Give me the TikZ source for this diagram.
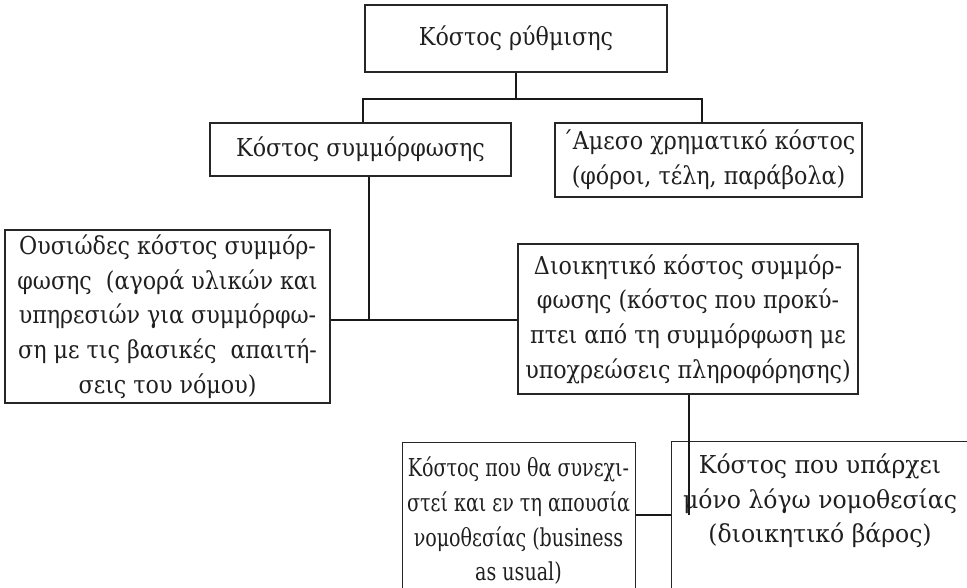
\documentclass[tikz,border=0pt]{standalone}
\usepackage{fontspec}
\setmainfont{DejaVu Serif Condensed}
\newfontfamily\narrowfont[FakeStretch=0.86]{DejaVu Serif Condensed}
\newfontfamily\widefont[FakeStretch=1.06]{DejaVu Serif Condensed}
\begin{document}
\begin{tikzpicture}[x=0.75pt,y=-0.75pt,
  box/.style={draw=black!85, line width=0.9pt, rectangle, inner sep=0pt, align=center,
    font=\fontsize{18.5}{26}\selectfont, text=black!88},
  txt/.style={inner sep=0pt, align=center, font=\fontsize{18.5}{26}\selectfont, text=black!88},
  conn/.style={draw=black!90, line width=1.8pt}]
\useasboundingbox (0,0) rectangle (967,588);
\clip (0,0) rectangle (967,588);
\node[box, minimum width=302*0.75pt, minimum height=67*0.75pt] (top) at (516,38.5) {Κόστος ρύθμισης};
\node[box, minimum width=301*0.75pt, minimum height=53*0.75pt] (comp) at (360.5,149.5) {Κόστος συμμόρφωσης};
\node[box, minimum width=307*0.75pt, minimum height=74*0.75pt] (direct) at (708.5,160) {΄Αμεσο χρηματικό κόστος\\(φόροι, τέλη, παράβολα)};
\node[box, minimum width=325*0.75pt, minimum height=173*0.75pt] (subst) at (167.5,316.5) {Ουσιώδες κόστος συμμόρ-\\φωσης\ \ (αγορά υλικών και\\υπηρεσιών για συμμόρφω-\\ση με τις βασικές\ \ απαιτή-\\σεις του νόμου)};
\node[box, minimum width=340*0.75pt, minimum height=150*0.75pt] (admin) at (688,319) {Διοικητικό κόστος συμμόρ-\\φωσης (κόστος που προκύ-\\πτει από τη συμμόρφωση με\\υποχρεώσεις πληροφόρησης)};
\node[box, minimum width=233*0.75pt, minimum height=180*0.75pt, anchor=north west] (bau) at (402,442) {};
\node[txt, anchor=center, font=\narrowfont\fontsize{18.5}{26}\selectfont] (baut) at (518.5,521) {Κόστος που θα συνεχι-\\στεί και εν τη απουσία\\νομοθεσίας (business\\as usual)};
\node[box, minimum width=310*0.75pt, minimum height=180*0.75pt, anchor=north west] (only) at (671,441) {};
\node[txt, anchor=center, font=\widefont\fontsize{18.5}{26}\selectfont] (onlyt) at (820,501) {Κόστος που υπάρχει\\μόνο λόγω νομοθεσίας\\(διοικητικό βάρος)};
% connectors
\coordinate (j1) at (516,99);
\coordinate (jl) at (363,99);
\coordinate (jr) at (702,99);
\draw[conn] (top.south) -- (j1);
\draw[conn] (comp.north -| jl) -- (jl) -- (jr) -- (direct.north -| jr);
\coordinate (j2) at (369,320);
\draw[conn] (comp.south -| j2) -- (j2);
\draw[conn] (subst.east |- j2) -- (admin.west |- j2);
\coordinate (j3) at (689,515);
\draw[conn] (admin.south -| j3) -- (j3);
\draw[conn] (bau.east |- j3) -- (only.west |- j3);
\end{tikzpicture}
\end{document}
